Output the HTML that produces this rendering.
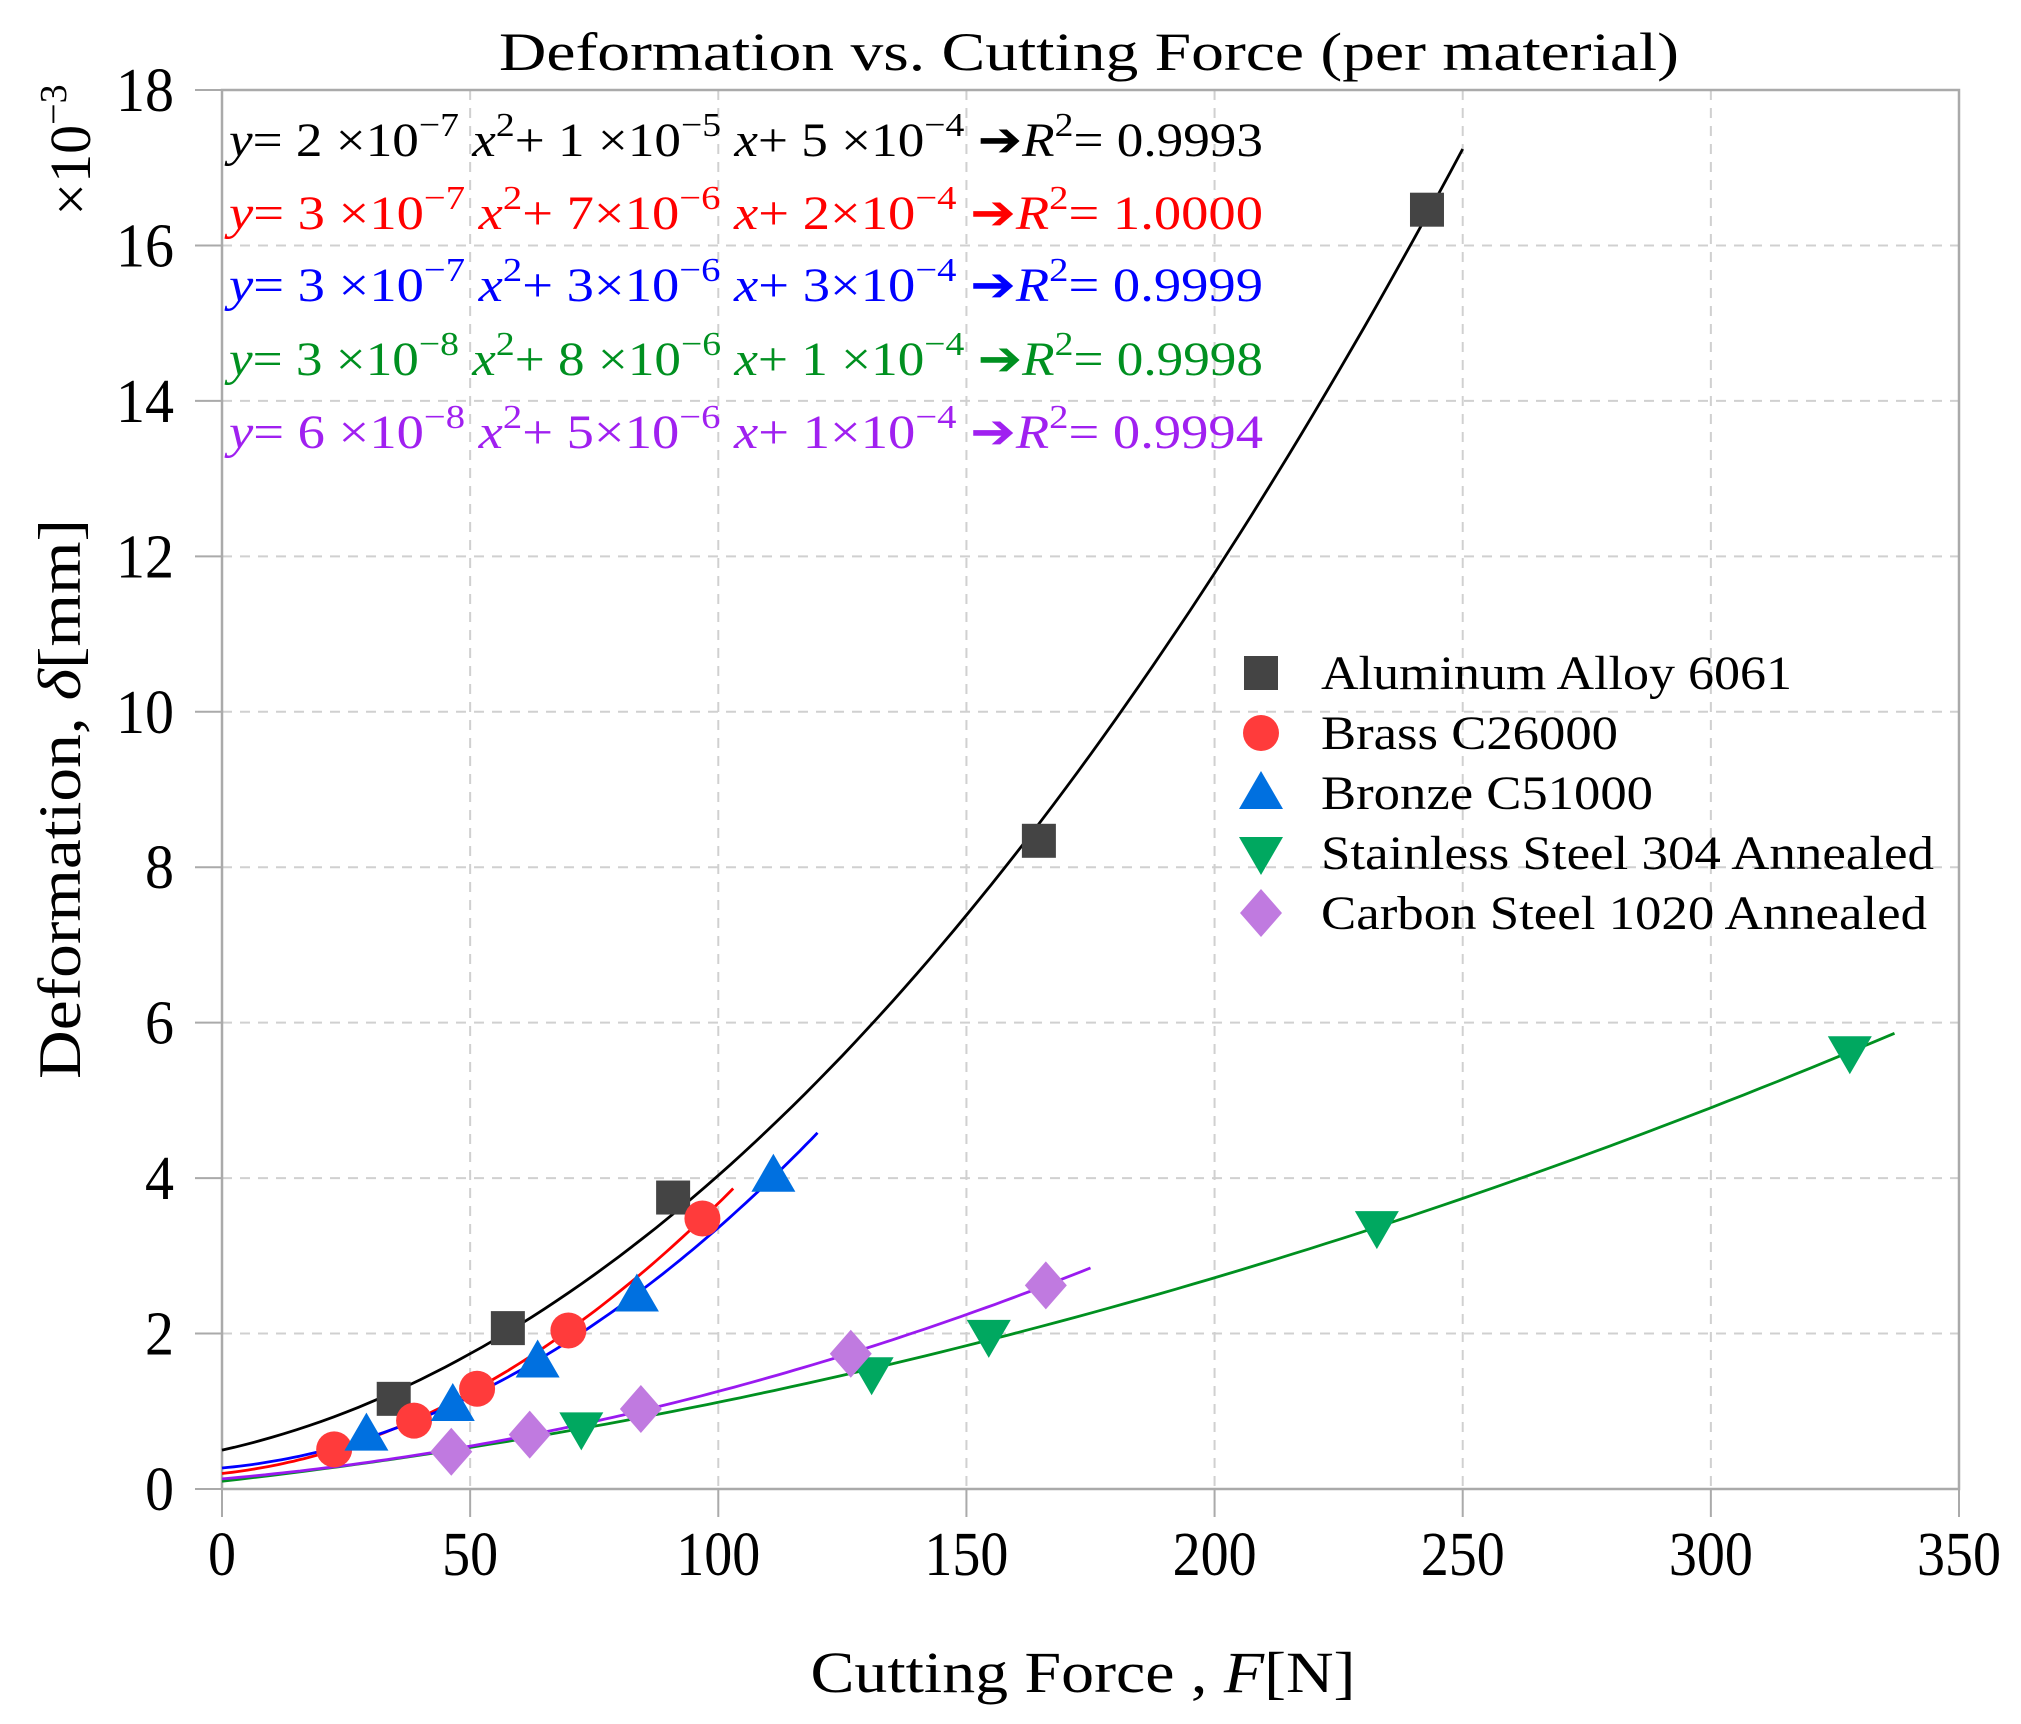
<!DOCTYPE html>
<html><head><meta charset="utf-8">
<style>html,body{margin:0;padding:0;background:#fff}svg{display:block}</style>
</head><body>
<svg id="chart" width="2021" height="1724" viewBox="0 0 2021 1724" xmlns="http://www.w3.org/2000/svg" font-family="Liberation Serif, serif">
<rect width="2021" height="1724" fill="#fff"/>
<g id="grid"></g>
<g id="axes"></g>
<g id="curves"></g>
<g id="marks"></g>
<text x="1089" y="70" font-size="54" text-anchor="middle" textLength="1180" lengthAdjust="spacingAndGlyphs">Deformation vs. Cutting Force (per material)</text>
<text transform="translate(80,799) rotate(-90)" font-size="60" text-anchor="middle" textLength="560" lengthAdjust="spacingAndGlyphs">Deformation, <tspan font-style="italic">δ</tspan>[mm]</text>
<text transform="translate(90,150) rotate(-90)" font-size="58" text-anchor="middle">×10<tspan font-size="38" dy="-24">−3</tspan></text>
<text x="1083" y="1692" font-size="58" text-anchor="middle" textLength="545" lengthAdjust="spacingAndGlyphs">Cutting Force , <tspan font-style="italic">F</tspan>[N]</text>
<g id="equations"></g>
<g id="legend"></g>
</svg>
<script>
const xTicks = [0,50,100,150,200,250,300,350];
const yTicks = [0,2,4,6,8,10,12,14,16,18];
const seriesNames = ["Aluminum Alloy 6061","Brass C26000","Bronze C51000","Stainless Steel 304 Annealed","Carbon Steel 1020 Annealed"];
const alX = [34.6,57.6,90.9,164.6,242.8];
const alY = [1.16,2.07,3.75,8.34,16.46];
const brX = [22.6,38.7,51.4,69.8,96.8];
const brY = [0.51,0.88,1.29,2.04,3.48];
const bzX = [29.1,46.5,63.6,83.6,111.1];
const bzY = [0.70,1.08,1.64,2.49,4.03];
const ssX = [72.4,130.9,154.5,232.7,328.0];
const ssY = [0.78,1.49,1.97,3.37,5.62];
const csX = [46.2,62.0,84.4,126.7,166.0];
const csY = [0.48,0.70,1.03,1.74,2.62];
const fitEnd = [250,103,120,337,175];
const fitIntercept = [0.5,0.2,0.27,0.1,0.13];

const NS="http://www.w3.org/2000/svg";
const L=222,R=1959,T=90,B=1489;
const xs=v=>L+(v-0)/(350-0)*(R-L);
const ys=v=>B-(v-0)/(18-0)*(B-T);
function mk(tag,attrs,parent){const e=document.createElementNS(NS,tag);for(const k in attrs)e.setAttribute(k,attrs[k]);parent.appendChild(e);return e;}
const grid=document.getElementById('grid'),axes=document.getElementById('axes');
xTicks.forEach(t=>{
  const x=xs(t);
  if(t>0&&t<350){const g=mk('line',{x1:x,x2:x,y1:T,y2:B,stroke:'#d0d0d0','stroke-width':2,'stroke-dasharray':'10,8'},grid);
  
  }
  const tk=mk('line',{x1:x,x2:x,y1:B,y2:B+28,stroke:'#aaa','stroke-width':2},axes);
  
  
  const tl=mk('text',{x:x,y:B+86,'font-size':62,'text-anchor':'middle'},axes);
  
  
  tl.textContent=t;
  tl.setAttribute('textLength',String(t).length*28);
  tl.setAttribute('lengthAdjust','spacingAndGlyphs');
});
yTicks.forEach(t=>{
  const y=ys(t);
  if(t>0&&t<18){const g=mk('line',{x1:L,x2:R,y1:y,y2:y,stroke:'#d0d0d0','stroke-width':2,'stroke-dasharray':'10,8'},grid);
  
  }
  const tk=mk('line',{x1:L-27,x2:L,y1:y,y2:y,stroke:'#aaa','stroke-width':2},axes);
  
  
  const tl=mk('text',{x:174,y:y+21,'font-size':62,'text-anchor':'end'},axes);
  
  
  tl.textContent=t;
  tl.setAttribute('textLength',String(t).length*29);
  tl.setAttribute('lengthAdjust','spacingAndGlyphs');
});
const frame=mk('rect',{x:L,y:T,width:R-L,height:B-T,fill:'none',stroke:'#aaa','stroke-width':2.5},axes);



const X=[alX,brX,bzX,ssX,csX],Y=[alY,brY,bzY,ssY,csY];
const lineCol=['#000','#ff0000','#0000ff','#009020','#9a1af0'];
const markCol=['#444','#ff3b3b','#0070e0','#00a860','#c07ae0'];
function fit(xa,ya,c){let s22=0,s21=0,s11=0,t2=0,t1=0;
  xa.forEach((x,i)=>{const r=ya[i]-c;s22+=x**4;s21+=x**3;s11+=x*x;t2+=r*x*x;t1+=r*x;});
  const det=s22*s11-s21*s21;return [(t2*s11-t1*s21)/det,(s22*t1-s21*t2)/det];}
const curves=document.getElementById('curves');
for(let s=0;s<5;s++){
  const c=fitIntercept[s];const [a,b]=fit(X[s],Y[s],c);
  let d='';for(let i=0;i<=100;i++){const x=fitEnd[s]*i/100;const y=c+a*x*x+b*x;d+=(i?'L':'M')+xs(x).toFixed(1)+','+ys(y).toFixed(1);}
  const p=mk('path',{d:d,fill:'none',stroke:lineCol[s],'stroke-width':2.8},curves);
  
  
}
function marker(s,cx,cy,parent){
  let e;
  if(s==0)e=mk('rect',{x:cx-17,y:cy-17,width:34,height:34,fill:markCol[0]},parent);
  else if(s==1)e=mk('circle',{cx:cx,cy:cy,r:18,fill:markCol[1]},parent);
  else if(s==2)e=mk('polygon',{points:`${cx-22},${cy+16} ${cx+22},${cy+16} ${cx},${cy-22}`,fill:markCol[2]},parent);
  else if(s==3)e=mk('polygon',{points:`${cx-22},${cy-16} ${cx+22},${cy-16} ${cx},${cy+22}`,fill:markCol[3]},parent);
  else e=mk('polygon',{points:`${cx},${cy-24} ${cx+21},${cy} ${cx},${cy+24} ${cx-21},${cy}`,fill:markCol[4]},parent);
  return e;
}
const marks=document.getElementById('marks');
for(let s=0;s<5;s++){X[s].forEach((x,i)=>{
  const m=marker(s,xs(x),ys(Y[s][i]),marks);
  
  
});}
const legend=document.getElementById('legend');
const legY=[673,733,793,853,913];
const legLen=[471,297,332,613,606];
for(let s=0;s<5;s++){
  const m=marker(s,1261,legY[s],legend);
  
  
  const t=mk('text',{x:1321,y:legY[s]+16,'font-size':48,textLength:legLen[s],lengthAdjust:'spacingAndGlyphs'},legend);
  
  
  t.textContent=seriesNames[s];
}
const eqA=['2','3','3','3','6'],eqAe=['−7','−7','−7','−8','−8'];
const eqB=['1 ','7','3','8 ','5'],eqBe=['−5','−6','−6','−6','−6'];
const eqC=['5 ','2','3','1 ','1'],eqCe=['−4','−4','−4','−4','−4'];
const eqR=['0.9993','1.0000','0.9999','0.9998','0.9994'];
const eqCol=['#000','#ff0000','#0000ff','#009020','#a020f0'];
const eqY=[156,229,301,375,448];
const eqg=document.getElementById('equations');
for(let s=0;s<5;s++){
  const t=mk('text',{x:229,y:eqY[s],'font-size':48,fill:eqCol[s],textLength:1034,lengthAdjust:'spacingAndGlyphs'},eqg);
  
  
  t.innerHTML=`<tspan font-style="italic">y</tspan>= ${eqA[s]} ×10<tspan font-size="34" dy="-20">${eqAe[s]}</tspan><tspan dy="20"> </tspan><tspan font-style="italic">x</tspan><tspan font-size="34" dy="-20">2</tspan><tspan dy="20">+ ${eqB[s]}×10</tspan><tspan font-size="34" dy="-20">${eqBe[s]}</tspan><tspan dy="20"> </tspan><tspan font-style="italic">x</tspan>+ ${eqC[s]}×10<tspan font-size="34" dy="-20">${eqCe[s]}</tspan><tspan dy="20"> ➔</tspan><tspan font-style="italic">R</tspan><tspan font-size="34" dy="-20">2</tspan><tspan dy="20">= ${eqR[s]}</tspan>`;
}
</script>
</body></html>
